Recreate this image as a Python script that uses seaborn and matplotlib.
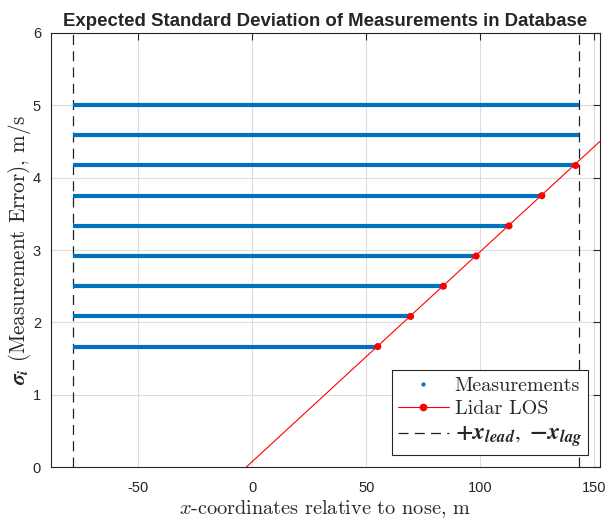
import matplotlib
matplotlib.use("Agg")
import matplotlib.pyplot as plt
from matplotlib.lines import Line2D
import seaborn as sns
import pandas as pd

# ---- data ----
levels = [1.667, 2.083, 2.5, 2.917, 3.333, 3.75, 4.167, 4.583, 5.0]
meas_start = [-78.5, -78.5, -78.5, -78.5, -78.5, -78.5, -78.5, -78.5, -78.5]
meas_end = [55.0, 69.4, 83.8, 98.2, 112.6, 127.0, 141.8, 143.4, 143.4]
los_x = [-2.8, 152.5]
los_y = [0.0, 4.5]
dot_x = [55.0, 69.4, 83.8, 98.2, 112.6, 127.0, 141.8]
dot_y = [1.667, 2.083, 2.5, 2.917, 3.333, 3.75, 4.167]
x_lag = -78.5
x_lead = 143.4
xticks = [-50, 0, 50, 100, 150]
yticks = [0, 1, 2, 3, 4, 5, 6]

sns.set_style("white")
plt.rcParams["font.family"] = ["Liberation Sans", "DejaVu Sans"]
plt.rcParams["mathtext.fontset"] = "cm"

fig = plt.figure(figsize=(6.08, 5.2), dpi=100)
ax = fig.add_axes([0.0834, 0.1013, 0.9034, 0.8358])

blue = "#0072BD"
red = "#FF0000"

ax.hlines(levels, meas_start, meas_end, colors=blue, lw=3.0, zorder=3)

sns.lineplot(data=pd.DataFrame({"x": los_x, "y": los_y}), x="x", y="y",
             color=red, lw=0.8, ax=ax, zorder=4, legend=False)
sns.scatterplot(data=pd.DataFrame({"x": dot_x, "y": dot_y}), x="x", y="y",
                color=red, s=26, edgecolor="none", ax=ax, zorder=5, legend=False)

for xv in (x_lead, x_lag):
    ax.axvline(xv, color="#222222", lw=0.9, ls=(0, (8, 5)), zorder=2)

ax.set_xlim(-88.5, 152.5)
ax.set_ylim(0, 6)
ax.set_xticks(xticks)
ax.set_yticks(yticks)
ax.set_xticklabels([str(t) for t in xticks])
ax.set_yticklabels([str(t) for t in yticks])
ax.grid(True, color="#DCDCDC", lw=0.8)
ax.set_axisbelow(True)
ax.tick_params(direction="in", length=5, width=0.8, colors="#262626",
               labelsize=10.5, top=True, right=True, labelcolor="#262626")
ax.tick_params(axis="x", pad=10)
ax.tick_params(axis="y", pad=7)
for sp in ax.spines.values():
    sp.set_color("#262626")
    sp.set_linewidth(0.8)
    sp.set_visible(True)

ax.set_xlabel(r"$x$-coordinates relative to nose, m", fontsize=14.6, labelpad=2,
              family="cmr10")
ylab = ax.set_ylabel(r"$\mathbfit{\sigma_i}$ (Measurement Error), m/s", fontsize=15.2,
                     labelpad=0, family="cmr10")
ylab.set_math_fontfamily("stix")
ax.set_title("Expected Standard Deviation of Measurements in Database",
             fontsize=13.4, fontweight="bold", pad=5)

handles = [
    Line2D([], [], color=blue, marker=".", ls="none", markersize=4),
    Line2D([], [], color=red, marker="o", lw=0.8, markersize=4.5),
    Line2D([], [], color="#222222", lw=0.9, ls=(0, (8, 5))),
]
labels = ["Measurements", "Lidar LOS",
          r"$\mathbf{+}\mathbfit{x_{lead}},\ \mathbf{-}\mathbfit{x_{lag}}$"]
leg = ax.legend(handles, labels, loc="lower right", frameon=True,
                prop={"family": "cmr10", "size": 14.5},
                fancybox=False, edgecolor="#262626", framealpha=1,
                borderaxespad=0.6, handlelength=2.5, handletextpad=0.3,
                labelspacing=0.25, borderpad=0.3)
leg.get_frame().set_linewidth(0.8)
leg.get_texts()[2].set_math_fontfamily("stix")
leg.get_texts()[2].set_fontsize(17)

fig.savefig("out.png", dpi=100)
